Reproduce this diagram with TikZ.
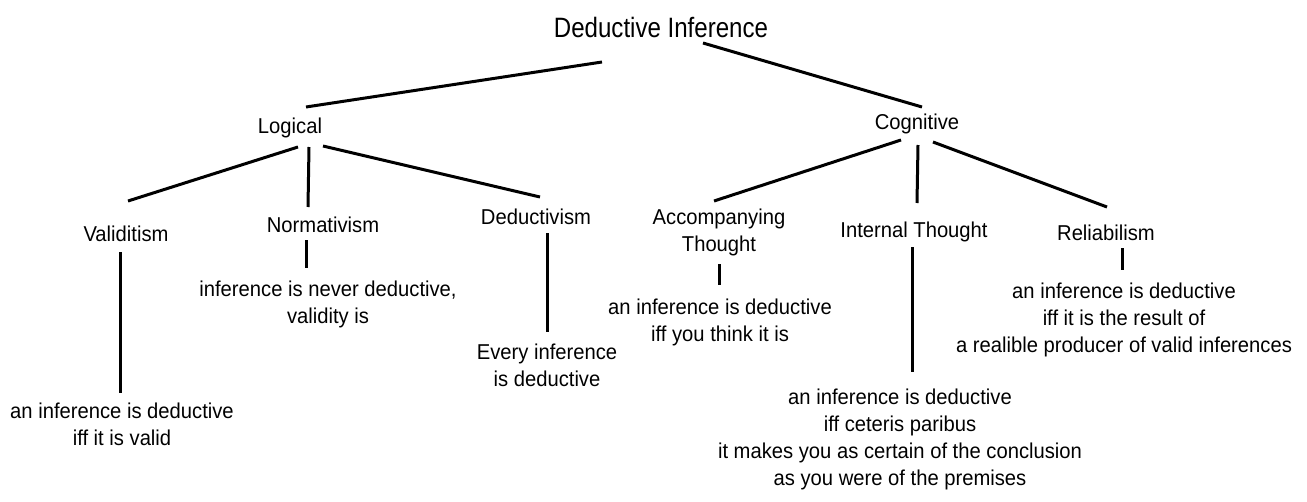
\documentclass[tikz,border=0pt]{standalone}
\usepackage{fontspec}
\setmainfont{Liberation Sans}[FakeStretch=0.94]
\newfontfamily\rootfont{Liberation Sans}[FakeStretch=0.86]
\usetikzlibrary{positioning}

\begin{document}
\begin{tikzpicture}[x=1pt,y=-1pt,
    term/.style={inner sep=0pt, font=\fontsize{21.5}{27}\selectfont},
    root/.style={inner sep=0pt, font=\rootfont\fontsize{28}{32}\selectfont},
    leaf/.style={term, align=center, anchor=north},
    edge/.style={line width=3pt}]
		\useasboundingbox (0,0) rectangle (1307,501);

		% labels
		\node[root,anchor=base] (deduction) at (661,37) {Deductive Inference};
		\node[term,anchor=base] (logical) at (290,133) {Logical};
		\node[term,anchor=base] (cognitive) at (917,129) {Cognitive};
		\node[term,anchor=base] (validitism) at (126,241) {Validitism};
		\node[term,anchor=base] (normativism) at (323,232) {Normativism};
		\node[term,anchor=base] (deductivism) at (536,224) {Deductivism};
		\node[leaf] (accompanying) at (719,209) {Accompanying\\Thought};
		\node[term,anchor=base] (internal) at (914,237) {Internal Thought};
		\node[term,anchor=base] (reliabilism) at (1106,240) {Reliabilism};

		\node[leaf] (validdef) at (122,403) {an inference is deductive\\iff it is valid};
		\node[leaf] (normdef) at (328,281) {inference is never deductive,\\validity is};
		\node[leaf] (deductdef) at (547,344) {Every inference\\is deductive};
		\node[leaf] (accompdef) at (720,299) {an inference is deductive\\iff you think it is};
		\node[leaf] (internaldef) at (900,389) {an inference is deductive\\iff ceteris paribus\\it makes you as certain of the conclusion\\as you were of the premises};
		\node[leaf] (reliabdef) at (1124,283) {an inference is deductive\\iff it is the result of\\a realible producer of valid inferences};

		% branches
		\draw[edge] ([shift={(-59,25)}]deduction.base) -- ([shift={(16,-26)}]logical.base);
		\draw[edge] ([shift={(42,6)}]deduction.base) -- ([shift={(5,-22)}]cognitive.base);

		\draw[edge] ([shift={(8,14)}]logical.base) -- ([shift={(2,-40)}]validitism.base);
		\draw[edge] ([shift={(19,14)}]logical.base) -- ([shift={(-15,-25)}]normativism.base);
		\draw[edge] ([shift={(33,13)}]logical.base) -- ([shift={(4,-27)}]deductivism.base);

		\draw[edge] ([shift={(-16,11)}]cognitive.base) -- ([shift={(-5,-8)}]accompanying.north);
		\draw[edge] ([shift={(1,16)}]cognitive.base) -- ([shift={(3,-34)}]internal.base);
		\draw[edge] ([shift={(16,13)}]cognitive.base) -- ([shift={(1,-33)}]reliabilism.base);

		\draw[edge] ([shift={(-6,11)}]validitism.base) -- ([shift={(-2,-10)}]validdef.north);
		\draw[edge] ([shift={(-17,8)}]normativism.base) -- ([shift={(-22,-13)}]normdef.north);
		\draw[edge] ([shift={(11,9)}]deductivism.base) -- ([shift={(0,-12)}]deductdef.north);
		\draw[edge] ([shift={(0,55)}]accompanying.north) -- ([shift={(-1,-14)}]accompdef.north);
		\draw[edge] ([shift={(-2,10)}]internal.base) -- ([shift={(12,-17)}]internaldef.north);
		\draw[edge] ([shift={(16,8)}]reliabilism.base) -- ([shift={(-2,-13)}]reliabdef.north);

	\end{tikzpicture}
\end{document}
